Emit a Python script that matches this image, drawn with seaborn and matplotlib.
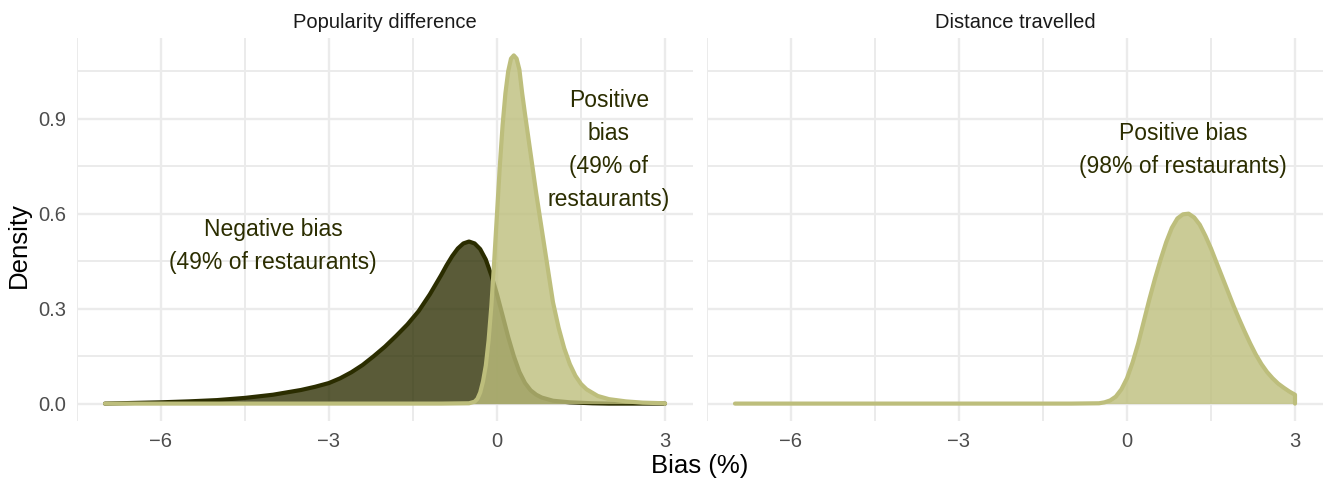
import matplotlib
matplotlib.use("Agg")
import matplotlib.pyplot as plt
import seaborn as sns

# ---- data ----
panels = ["Popularity difference", "Distance travelled"]

neg_left_x = [-7.0, -6.5, -6.0, -5.5, -5.0, -4.5, -4.0, -3.5, -3.25, -3.0, -2.8, -2.6, -2.4,
              -2.2, -2.0, -1.8, -1.6, -1.4, -1.2, -1.0, -0.9, -0.8, -0.7, -0.6, -0.5,
              -0.4, -0.3, -0.2, -0.1, 0.0, 0.1, 0.2, 0.3, 0.4, 0.5, 0.6, 0.7, 0.8, 1.0,
              1.3, 1.7, 2.0, 3.0]
neg_left_y = [0.000, 0.002, 0.004, 0.007, 0.011, 0.018, 0.028, 0.043, 0.053, 0.065, 0.080, 0.099,
              0.122, 0.150, 0.180, 0.214, 0.250, 0.292, 0.345, 0.405, 0.437, 0.466, 0.490,
              0.506, 0.512, 0.506, 0.488, 0.455, 0.405, 0.345, 0.278, 0.210, 0.150, 0.100,
              0.065, 0.042, 0.028, 0.019, 0.009, 0.004, 0.001, 0.000, 0.000]

pos_left_x = [-7.0, -1.0, -0.5, -0.4, -0.35, -0.3, -0.25, -0.2, -0.15, -0.1, -0.05, 0.0, 0.05,
              0.1, 0.15, 0.2, 0.25, 0.3, 0.35, 0.4, 0.45, 0.5, 0.6, 0.7, 0.8, 0.9, 1.0,
              1.1, 1.2, 1.3, 1.4, 1.5, 1.6, 1.8, 2.0, 2.3, 2.6, 3.0]
pos_left_y = [0.0, 0.0, 0.001, 0.006, 0.015, 0.035, 0.07, 0.12, 0.20, 0.31, 0.45, 0.60, 0.75,
              0.88, 0.98, 1.05, 1.09, 1.10, 1.09, 1.055, 0.98, 0.915, 0.79, 0.665, 0.55, 0.435,
              0.32, 0.24, 0.175, 0.125, 0.088, 0.062, 0.045, 0.024, 0.014, 0.007, 0.003, 0.001]

pos_right_x = [-7.0, -1.0, -0.5, -0.4, -0.3, -0.2, -0.1, 0.0, 0.1, 0.2, 0.3, 0.4, 0.5, 0.6,
               0.7, 0.8, 0.9, 1.0, 1.1, 1.2, 1.3, 1.4, 1.5, 1.6, 1.7, 1.8, 1.9, 2.0, 2.1,
               2.2, 2.3, 2.4, 2.5, 2.6, 2.7, 2.8, 2.9, 3.0]
pos_right_y = [0.0, 0.0, 0.001, 0.004, 0.010, 0.022, 0.045, 0.080, 0.130, 0.190, 0.260, 0.330,
               0.395, 0.455, 0.510, 0.555, 0.585, 0.598, 0.600, 0.588, 0.565, 0.530, 0.490,
               0.445, 0.400, 0.355, 0.310, 0.268, 0.228, 0.190, 0.155, 0.125, 0.100, 0.080,
               0.063, 0.050, 0.038, 0.028]

x_ticks = [-6, -3, 0, 3]
x_tick_labels = ["\u22126", "\u22123", "0", "3"]
y_ticks = [0.0, 0.3, 0.6, 0.9]
y_tick_labels = ["0.0", "0.3", "0.6", "0.9"]

neg_label = "Negative bias\n(49% of restaurants)"
pos_left_label = "Positive\nbias\n(49% of\nrestaurants)"
pos_right_label = "Positive bias\n(98% of restaurants)"

# ---- style ----
sns.set_theme(style="white")
plt.rcParams["font.family"] = ["Liberation Sans", "DejaVu Sans"]

DARK = "#2b2d00"
LIGHT = "#bdbe7c"
GRID = "#ebebeb"
TEXT_ANN = "#2b2d00"

fig = plt.figure(figsize=(13.25, 4.78), dpi=100)
ax_l = fig.add_axes([77 / 1325, 1 - 421 / 478, 616 / 1325, 383 / 478])
ax_r = fig.add_axes([707 / 1325, 1 - 421 / 478, 616 / 1325, 383 / 478], sharey=ax_l)


def draw_density(ax, xs, ys, color, fill_alpha, z):
    ax.fill_between(xs, 0, ys, color=color, alpha=fill_alpha, linewidth=0, zorder=z)
    px = list(xs) + [xs[-1]]
    py = list(ys) + [0.0]
    sns.lineplot(x=px, y=py, ax=ax, color=color, linewidth=3.0, estimator=None,
                 sort=False, zorder=z + 0.5, solid_capstyle="round", solid_joinstyle="round")


for ax, title in zip([ax_l, ax_r], panels):
    ax.set_xlim(-7.5, 3.5)
    ax.set_ylim(-0.055, 1.155)
    for s in ax.spines.values():
        s.set_visible(False)
    ax.set_xticks(x_ticks)
    ax.set_xticklabels(x_tick_labels)
    ax.set_xticks([-7.5, -4.5, -1.5, 1.5], minor=True)
    ax.set_yticks(y_ticks)
    ax.set_yticks([0.15, 0.45, 0.75, 1.05], minor=True)
    ax.grid(True, which="major", color=GRID, linewidth=1.7, zorder=0)
    ax.grid(True, which="minor", color=GRID, linewidth=1.4, zorder=0)
    ax.set_axisbelow(True)
    ax.tick_params(which="both", length=0, labelsize=14.5, labelcolor="#4d4d4d", pad=8)
    ax.set_title(title, fontsize=14.5, color="#1a1a1a", pad=7)
    ax.set_xlabel("")
    ax.set_ylabel("")

ax_l.set_yticklabels(y_tick_labels)
ax_r.tick_params(axis="y", labelleft=False)

draw_density(ax_l, neg_left_x, neg_left_y, DARK, 0.78, 2)
draw_density(ax_l, pos_left_x, pos_left_y, LIGHT, 0.8, 3)
draw_density(ax_r, pos_right_x, pos_right_y, LIGHT, 0.8, 3)

ann_kw = dict(ha="center", va="center", fontsize=16.5, color=TEXT_ANN, linespacing=1.56, zorder=6)
ax_l.text(-4.0, 0.497, neg_label, **ann_kw)
ax_l.text(2.0, 0.80, pos_left_label, **ann_kw)
ax_r.text(1.0, 0.80, pos_right_label, **ann_kw)

fig.text(700 / 1325, 1 - 466 / 478, "Bias (%)", ha="center", va="center", fontsize=18.5, color="black")
fig.text(19 / 1325, 1 - 245 / 478, "Density", ha="center", va="center", rotation=90,
         fontsize=18.5, color="black")

fig.savefig("out.png", dpi=100, facecolor="white")
